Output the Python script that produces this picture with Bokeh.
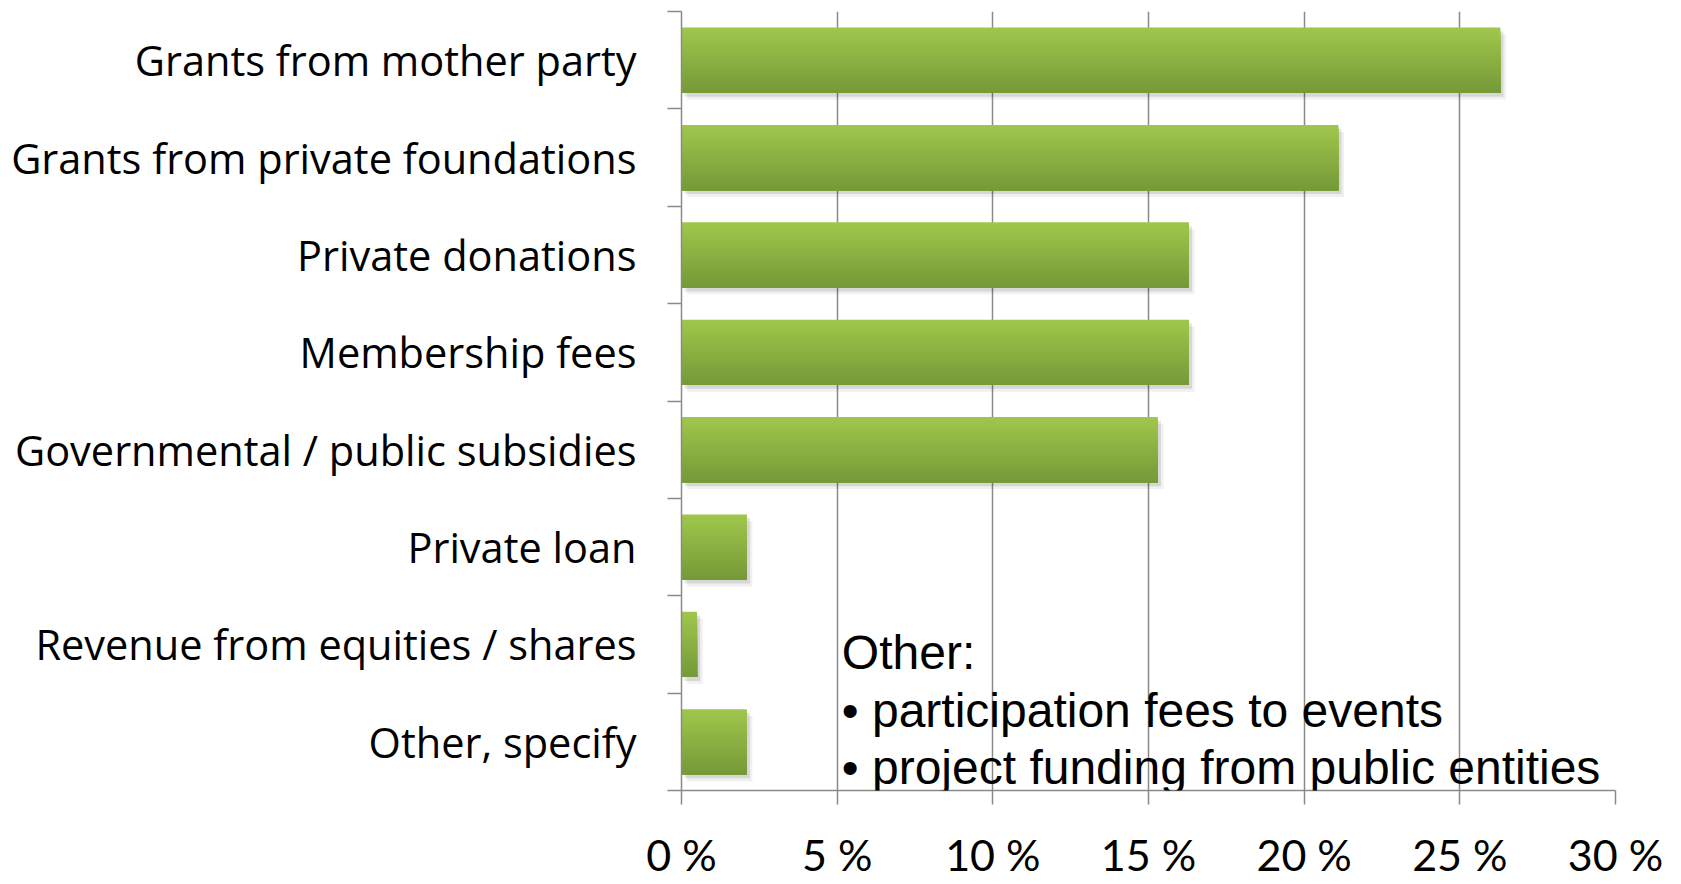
from bokeh.plotting import figure
from bokeh.models import FixedTicker, Label, Range1d, ColumnDataSource
from bokeh.embed import file_html
from bokeh.resources import INLINE

# ---- data (top to bottom, as in the chart) ----
categories = [
    "Grants from mother party",
    "Grants from private foundations",
    "Private donations",
    "Membership fees",
    "Governmental / public subsidies",
    "Private loan",
    "Revenue from equities / shares",
    "Other, specify",
]
values = [26.3, 21.1, 16.3, 16.3, 15.3, 2.1, 0.5, 2.1]
x_ticks = [0, 5, 10, 15, 20, 25, 30]
x_tick_labels = ["0 %", "5 %", "10 %", "15 %", "20 %", "25 %", "30 %"]
note_text = "Other:\n• participation fees to events\n• project funding from public entities"

# ---- style ----
GRAY = "#8a8a8a"
TOP_RGB = (160, 199, 76)
BOT_RGB = (117, 153, 56)
BAR_H = 0.67
N_STRIPS = 30

n = len(categories)
centers = [n - i - 0.5 for i in range(n)]
bounds = list(range(n + 1))

p = figure(width=1681, height=884, output_backend="svg", toolbar_location=None,
           x_range=Range1d(0, 30), y_range=Range1d(0, n),
           min_border_left=681, min_border_right=66, min_border_top=11, min_border_bottom=94)
p.outline_line_color = None
p.background_fill_color = "white"
p.border_fill_color = "white"

# x axis
xa = p.xaxis[0]
xa.ticker = FixedTicker(ticks=x_ticks, minor_ticks=[])
xa.major_label_overrides = {t: l for t, l in zip(x_ticks, x_tick_labels)}
xa.major_tick_in = 0
xa.major_tick_out = 14
xa.major_tick_line_color = GRAY
xa.major_tick_line_width = 1.5
xa.axis_line_color = GRAY
xa.axis_line_width = 1.5
xa.major_label_text_font = "Lato"
xa.major_label_text_font_size = "43px"
xa.major_label_text_color = "black"
xa.major_label_standoff = 24

p.xgrid.ticker = FixedTicker(ticks=x_ticks)
p.xgrid.grid_line_color = GRAY
p.xgrid.grid_line_width = 1.5
p.ygrid.grid_line_color = None

# y axis: labels at centers, ticks at band boundaries
ya = p.yaxis[0]
ya.ticker = FixedTicker(ticks=centers, minor_ticks=bounds)
ya.major_label_overrides = {c: name for c, name in zip(centers, categories)}
ya.major_tick_in = 0
ya.major_tick_out = 14
ya.major_tick_line_alpha = 0
ya.minor_tick_in = 0
ya.minor_tick_out = 14
ya.minor_tick_line_color = GRAY
ya.minor_tick_line_width = 1.5
ya.axis_line_color = GRAY
ya.axis_line_width = 1.5
ya.major_label_text_font = "Open Sans"
ya.major_label_text_font_size = "41.5px"
ya.major_label_text_color = "black"
ya.major_label_standoff = 31

# shadows
for dx, dy, a in [(0.10, 0.04, 0.10), (0.18, 0.07, 0.06)]:
    p.hbar(y=[c - dy for c in centers], left=dx, right=[v + dx for v in values],
           height=BAR_H, fill_color="#000000", fill_alpha=a, line_color=None)

# gradient bars: each strip runs from its top edge down to the bar bottom
ys, hs, rights, colors = [], [], [], []
for c, v in zip(centers, values):
    bottom = c - BAR_H / 2
    for k in range(N_STRIPS):
        top = c + BAR_H / 2 - k * BAR_H / N_STRIPS
        f = (k + 0.5) / N_STRIPS
        ys.append((top + bottom) / 2)
        hs.append(top - bottom)
        rights.append(v)
        rgb = tuple(int(round(TOP_RGB[j] + (BOT_RGB[j] - TOP_RGB[j]) * f)) for j in range(3))
        colors.append("#%02x%02x%02x" % rgb)
src = ColumnDataSource(dict(y=ys, h=hs, right=rights, color=colors))
p.hbar(y="y", left=0, right="right", height="h", fill_color="color",
       line_color=None, source=src)

# note
p.add_layout(Label(x=5.15, y=1.69, text=note_text, text_font="Liberation Sans",
                   text_font_size="48px", text_color="black", text_baseline="top",
                   text_align="left", text_line_height=1.09))

# partial blue logo in the top-left corner (screen units: x from frame left, y from bottom)
try:
    logo = Label(x=-588, y=876, x_units="screen", y_units="screen", text="★",
                 text_color="white", text_font_size="16px", text_align="center",
                 text_baseline="middle", background_fill_color="#1166cc",
                 padding=dict(left=163, right=175, top=200, bottom=14),
                 border_radius=dict(top_left=0, top_right=0, bottom_right=177, bottom_left=177))
    p.add_layout(logo)
except Exception:
    pass

open("out.html", "w").write(file_html(p, INLINE))
